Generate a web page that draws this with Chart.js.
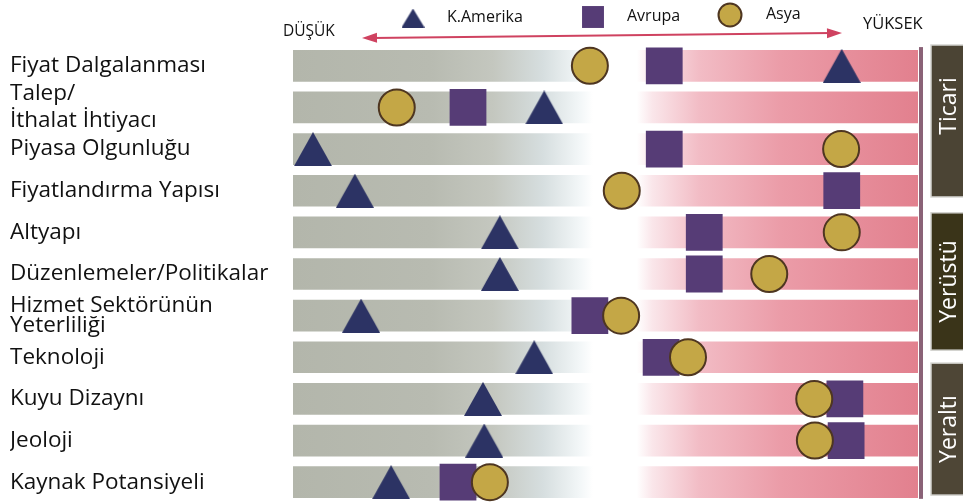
<!DOCTYPE html>
<html lang="tr">
<head>
<meta charset="utf-8">
<title>Bölgesel karşılaştırma</title>
<script src="https://cdn.jsdelivr.net/npm/chart.js@4/dist/chart.umd.min.js"></script>
<style>
    html, body { margin: 0; padding: 0; background: #fff; }
    #wrap { position: relative; width: 963px; height: 503px; }
</style>
</head>
<body>
<div id="wrap"><canvas id="chart"></canvas></div>
<script>
/* global Chart */

// categories, top to bottom
const categories = [
    'Fiyat Dalgalanması',
    ['Talep/', 'İthalat İhtiyacı'],
    'Piyasa Olgunluğu',
    'Fiyatlandırma Yapısı',
    'Altyapı',
    'Düzenlemeler/Politikalar',
    ['Hizmet Sektörünün', 'Yeterliliği'],
    'Teknoloji',
    'Kuyu Dizaynı',
    'Jeoloji',
    'Kaynak Potansiyeli'
];

// scale position: 0 = DÜŞÜK, 100 = YÜKSEK
const kAmerika = [87.8, 40.2, 3.2, 9.9, 33.1, 33.1, 10.9, 38.6, 30.4, 30.6, 15.7];
const avrupa   = [59.4, 28.0, 59.4, 87.8, 65.8, 65.8, 47.5, 58.9, 88.3, 88.5, 26.4];
const asya     = [47.5, 16.6, 87.7, 52.6, 87.8, 76.2, 52.5, 63.2, 83.4, 83.5, 31.5];

const fullRange = [0, 100];
const lowLabel = 'DÜŞÜK';
const highLabel = 'YÜKSEK';

// groups, edges in category units
const groupNames = ['Ticari', 'Yerüstü', 'Yeraltı'];
const groupFrom = [-0.5, 3.53, 7.14];
const groupTo = [3.15, 6.83, 10.31];

const FONT = '"Open Sans", "DejaVu Sans", sans-serif';

function barGradient(context) {
    const chart = context.chart;
    const area = chart.chartArea;
    if (!area) return '#c0c0c0';
    const g = chart.ctx.createLinearGradient(area.left, 0, area.right, 0);
    g.addColorStop(0, '#b3b6ab');
    g.addColorStop(0.22, '#b8bbb1');
    g.addColorStop(0.32, '#c4c7bf');
    g.addColorStop(0.40, '#d6dedf');
    g.addColorStop(0.46, '#f3f7f8');
    g.addColorStop(0.48, '#ffffff');
    g.addColorStop(0.55, '#ffffff');
    g.addColorStop(0.575, '#fae6ea');
    g.addColorStop(0.65, '#f2bcc5');
    g.addColorStop(0.78, '#eb9ca8');
    g.addColorStop(1, '#e2808e');
    return g;
}

// triangle centred on its bounding box (library triangle sits on its centroid)
function triangleSprite(w, h, color) {
    const c = document.createElement('canvas');
    c.width = w;
    c.height = h;
    const t = c.getContext('2d');
    t.fillStyle = color;
    t.beginPath();
    t.moveTo(w / 2, 0);
    t.lineTo(w, h);
    t.lineTo(0, h);
    t.closePath();
    t.fill();
    return c;
}

const NAVY = '#2c3364';
const triBig = triangleSprite(38, 34, NAVY);
const triSmall = triangleSprite(23, 19, NAVY);

function drawMarker(ctx, ds, x, y, radius) {
    if (ds.pointStyle instanceof HTMLCanvasElement) {
        ctx.drawImage(triSmall, x - triSmall.width / 2, y - triSmall.height / 2);
        return;
    }
    ctx.save();
    ctx.fillStyle = ds.backgroundColor;
    ctx.strokeStyle = ds.borderColor;
    ctx.lineWidth = ds.borderWidth;
    Chart.helpers.drawPoint(ctx, { pointStyle: ds.pointStyle, radius: radius, rotation: 0, borderWidth: ds.borderWidth }, x, y);
    ctx.restore();
}

// arrow, legend, right-hand group boxes
const decorations = {
    id: 'decorations',
    afterDatasetsDraw(chart) {
        const { ctx } = chart;
        const x = chart.scales.x;
        const y = chart.scales.y;

        // right edge line
        const xr = x.getPixelForValue(100);
        ctx.save();
        ctx.fillStyle = '#8a6277';
        const lt = y.getPixelForValue(-0.45);
        ctx.fillRect(xr + 1, lt, 4, y.getPixelForValue(10.4) - lt);

        // group boxes
        const textY = [106, null, null];
        groupNames.forEach((name, i) => {
            const top = y.getPixelForValue(groupFrom[i]);
            const bottom = y.getPixelForValue(groupTo[i]);
            ctx.fillStyle = ['#4b4434', '#3a3419', '#4e4636'][i];
            ctx.strokeStyle = '#d4d4d0';
            ctx.lineWidth = 1.5;
            ctx.fillRect(931, top, 40, bottom - top);
            ctx.strokeRect(931, top, 40, bottom - top);
            const cy = textY[i] || (top + bottom) / 2;
            ctx.save();
            ctx.translate(948, cy);
            ctx.rotate(-Math.PI / 2);
            ctx.fillStyle = '#ffffff';
            ctx.font = '23px ' + FONT;
            ctx.textAlign = 'center';
            ctx.textBaseline = 'middle';
            ctx.fillText(name, 0, 1);
            ctx.restore();
        });

        // double arrow
        const x0 = 362, y0 = 38, x1 = 842, y1 = 33;
        const ang = Math.atan2(y1 - y0, x1 - x0);
        ctx.strokeStyle = '#cf4260';
        ctx.fillStyle = '#cf4260';
        ctx.lineWidth = 2;
        ctx.beginPath();
        ctx.moveTo(x0 + 10, y0 - 0.1);
        ctx.lineTo(x1 - 10, y1 + 0.1);
        ctx.stroke();
        [[x0, y0, ang + Math.PI], [x1, y1, ang]].forEach(([tx, ty, a]) => {
            ctx.beginPath();
            ctx.moveTo(tx, ty);
            ctx.lineTo(tx - 15 * Math.cos(a) + 5 * Math.sin(a), ty - 15 * Math.sin(a) - 5 * Math.cos(a));
            ctx.lineTo(tx - 15 * Math.cos(a) - 5 * Math.sin(a), ty - 15 * Math.sin(a) + 5 * Math.cos(a));
            ctx.closePath();
            ctx.fill();
        });

        ctx.fillStyle = '#111';
        ctx.textBaseline = 'middle';
        ctx.textAlign = 'left';
        ctx.font = '15.5px ' + FONT;
        ctx.fillText(lowLabel, 283, 32);
        ctx.font = '16.5px ' + FONT;
        ctx.fillText(highLabel, 863, 24);

        // legend
        const legendAt = [[413, 18, 13, 447], [593, 17, 15.5, 627], [730, 15, 11.5, 766]];
        chart.data.datasets.slice(0, 3).forEach((ds, i) => {
            const [mx, my, r, tx] = legendAt[i];
            drawMarker(ctx, ds, mx, my, r);
            ctx.fillStyle = '#111';
            ctx.font = '16px ' + FONT;
            ctx.fillText(ds.label, tx, my - 1);
        });
        ctx.restore();
    }
};

new Chart(document.getElementById('chart'), {
    type: 'bar',
    data: {
        labels: categories,
        datasets: [
            {
                type: 'scatter', label: 'K.Amerika', data: kAmerika, indexAxis: 'y', order: 3,
                pointStyle: triBig, radius: 19, hoverRadius: 19,
                backgroundColor: NAVY, borderColor: NAVY, borderWidth: 0, clip: false
            },
            {
                type: 'scatter', label: 'Avrupa', data: avrupa, indexAxis: 'y', order: 2,
                pointStyle: 'rect', radius: 26, hoverRadius: 26,
                backgroundColor: '#563c76', borderColor: '#563c76', borderWidth: 0, clip: false
            },
            {
                type: 'scatter', label: 'Asya', data: asya, indexAxis: 'y', order: 1,
                pointStyle: 'circle', radius: 18, hoverRadius: 18,
                backgroundColor: '#c4a746', borderColor: '#4e3621', borderWidth: 2, clip: false
            },
            {
                type: 'bar', label: 'aralık', data: categories.map(() => fullRange), indexAxis: 'y', order: 4,
                backgroundColor: barGradient, borderWidth: 0, barThickness: 31
            }
        ]
    },
    options: {
        indexAxis: 'y',
        responsive: true,
        maintainAspectRatio: false,
        animation: false,
        events: [],
        layout: { autoPadding: false, padding: { left: 10, right: 45, top: 45, bottom: 0 } },
        plugins: {
            legend: { display: false },
            tooltip: { enabled: false }
        },
        scales: {
            x: { type: 'linear', min: 0, max: 100, display: false },
            y: {
                type: 'category',
                offset: true,
                grid: { display: false },
                border: { display: false },
                afterFit(scale) {
                    scale.width = 283;
                    scale.paddingTop = 0;
                    scale.paddingBottom = 0;
                },
                ticks: {
                    autoSkip: false,
                    crossAlign: 'far',
                    color: '#111',
                    font: (c) => ({ family: FONT, size: 22.5, lineHeight: c.index === 6 ? 0.89 : 1.2 })
                }
            }
        }
    },
    plugins: [decorations]
});
</script>
</body>
</html>
